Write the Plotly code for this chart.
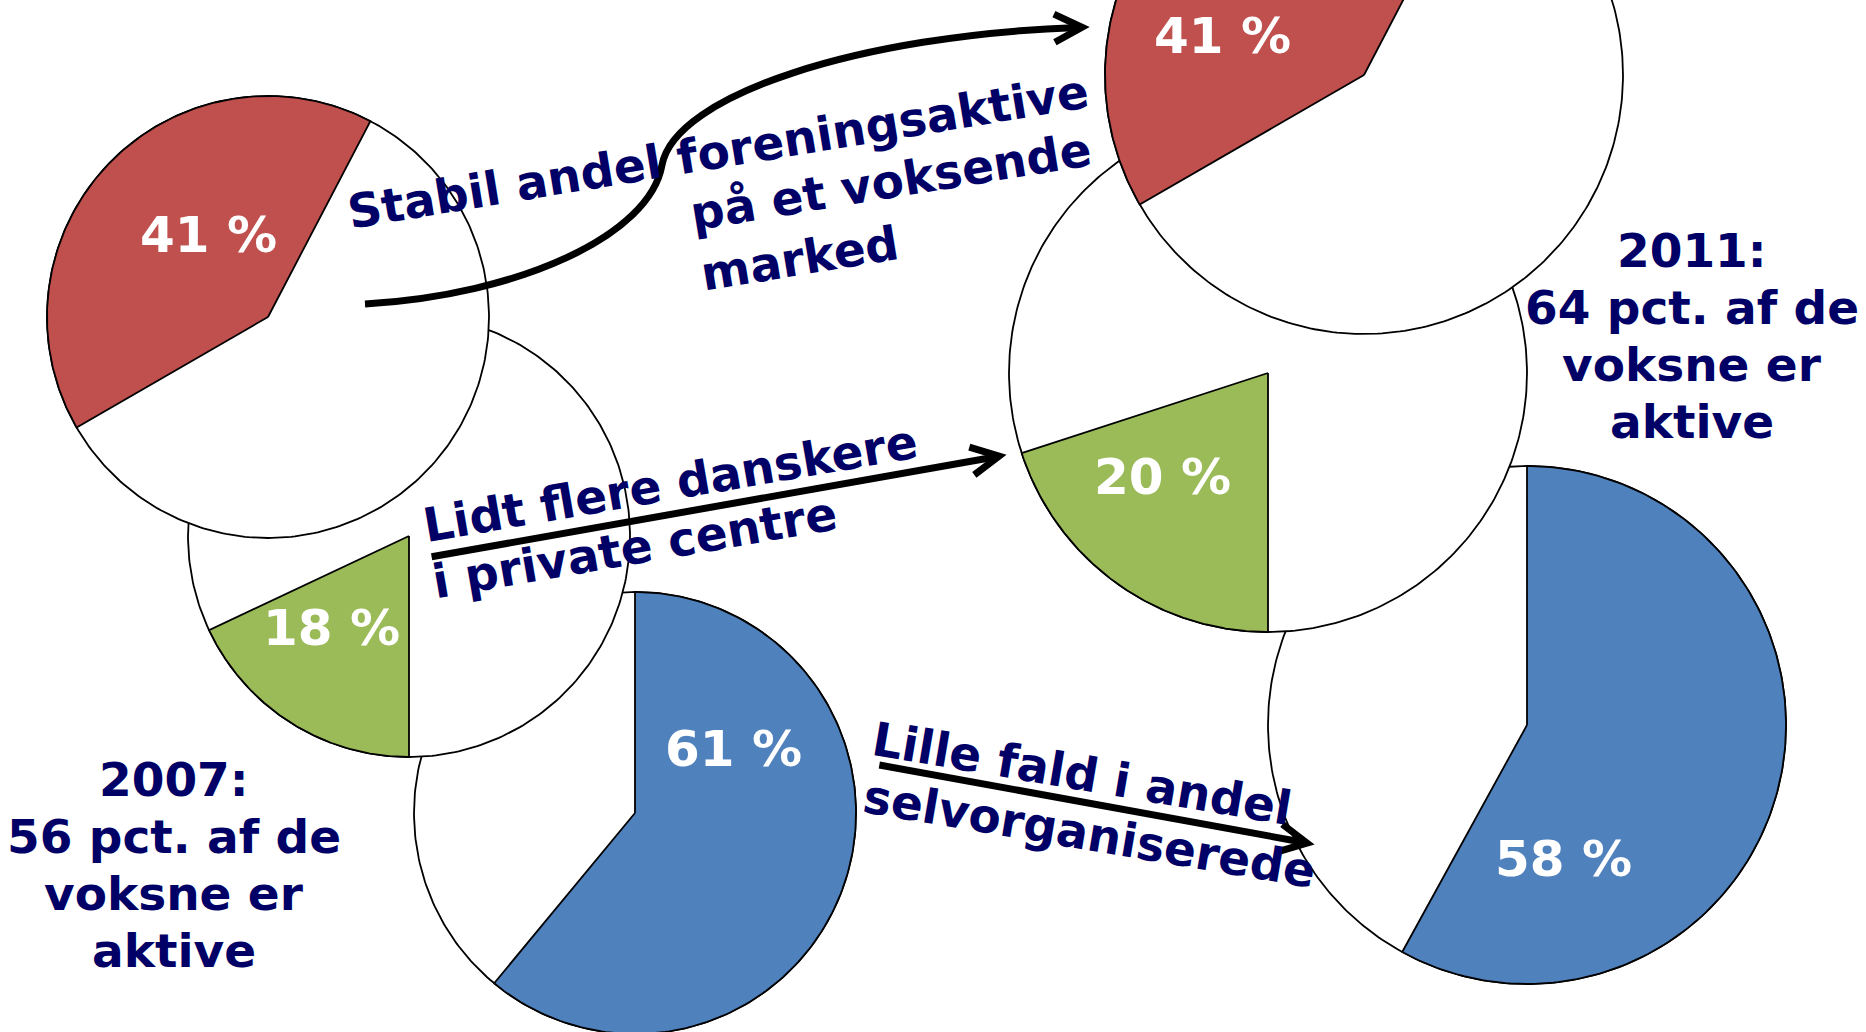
import numpy as np
import plotly.graph_objects as go

# data
years = ["2007", "2011"]
groups = ["Foreningsaktive", "Private centre", "Selvorganiserede"]
share_2007 = [41, 18, 61]
share_2011 = [41, 20, 58]
active_pct = [56, 64]

note_forening = ["Stabil andel foreningsaktive", "på et voksende", "marked"]
note_private = ["Lidt flere danskere", "i private centre"]
note_selv = ["Lille fald i andel", "selvorganiserede"]

# styling / layout
W, H = 1866, 1032
NAVY = "#000066"
FONT = "DejaVu Sans"
COLORS = ["#C0504D", "#9BBB59", "#4F81BD"]
START = [240, 180, 0]  # where the coloured slice starts, deg clockwise from 12 o'clock
PIE_POS = {
    "2007": [(268, 317, 221), (409, 536, 221), (635, 813, 221)],
    "2011": [(1364, 75, 259), (1268, 373, 259), (1527, 725, 259)],
}
LABEL_OFF = {
    "2007": [(-60, -82), (-78, 92), (98, -64)],
    "2011": [(-142, -39), (-106, 104), (36, 134)],
}
YEAR_TEXT_POS = {"2007": (174, 779), "2011": (1692, 250)}
LINE_STEP = 57.3

NOTE_POS = [
    (note_forening, [(718, 151), (890, 181), (799, 258)], -9.34),
    (note_private, [(670, 483), (634, 547)], -9.8),
    (note_selv, [(1082, 773), (1089, 833)], 9.6),
]


def arc(cx, cy, r, a0, a1, n=200):
    a = np.radians(np.linspace(a0, a1, n))
    return cx + r * np.sin(a), cy - r * np.cos(a)


def arrow_head(tip, vec, length=31, half=27):
    ang = np.arctan2(vec[1], vec[0])
    pts = []
    for s in (1, -1):
        b = ang + np.pi + s * np.radians(half)
        pts.append((tip[0] + length * np.cos(b), tip[1] + length * np.sin(b)))
    return f"M {pts[0][0]:.1f},{pts[0][1]:.1f} L {tip[0]},{tip[1]} L {pts[1][0]:.1f},{pts[1][1]:.1f}"


fig = go.Figure()
shares = {"2007": share_2007, "2011": share_2011}

annotations = []
for year in years:
    for i in [2, 1, 0]:
        cx, cy, r = PIE_POS[year][i]
        xs, ys = arc(cx, cy, r, 0, 360, 361)
        fig.add_trace(go.Scatter(
            x=xs, y=ys, mode="lines", fill="toself", fillcolor="white",
            line=dict(color="black", width=1.8), hoverinfo="skip",
        ))
        val = shares[year][i]
        ax, ay = arc(cx, cy, r, START[i], START[i] + val * 3.6)
        fig.add_trace(go.Scatter(
            x=np.concatenate([[cx], ax, [cx]]), y=np.concatenate([[cy], ay, [cy]]),
            mode="lines", fill="toself", fillcolor=COLORS[i],
            line=dict(color="black", width=1.8), name=f"{groups[i]} {year}",
            hoverinfo="name",
        ))
        dx, dy = LABEL_OFF[year][i]
        annotations.append(dict(
            x=cx + dx, y=cy + dy, text=f"{val} %", showarrow=False,
            font=dict(family=FONT, size=50, color="white", weight="bold"),
        ))

for k, year in enumerate(years):
    lines = [f"{year}:", f"{active_pct[k]} pct. af de", "voksne er", "aktive"]
    x0, y0 = YEAR_TEXT_POS[year]
    for j, t in enumerate(lines):
        annotations.append(dict(
            x=x0, y=y0 + j * LINE_STEP, text=t, showarrow=False,
            font=dict(family=FONT, size=47, color=NAVY, weight="bold"),
        ))

for lines, pos, ang in NOTE_POS:
    for t, (x, y) in zip(lines, pos):
        annotations.append(dict(
            x=x, y=y, text=t, showarrow=False, textangle=ang,
            font=dict(family=FONT, size=47, color=NAVY, weight="bold"),
        ))

for a in annotations:
    a.update(xref="x", yref="y", xanchor="center", yanchor="middle")

arrow_line = dict(color="black", width=7)
shapes = [
    dict(type="path", path="M 365,304 C 520,295 650,235 662,165 C 675,95 860,35 1078,27.5",
         line=arrow_line),
    dict(type="path", path=arrow_head((1082, 27.3), (1, -0.035)), line=arrow_line),
    dict(type="line", x0=431.6, y0=556.7, x1=995, y1=457, line=arrow_line),
    dict(type="path", path=arrow_head((999, 456.2), (574, -101.6)), line=arrow_line),
    dict(type="line", x0=879.3, y0=765, x1=1303, y1=842.2, line=arrow_line),
    dict(type="path", path=arrow_head((1307, 843), (433.4, 79)), line=arrow_line),
]
for s in shapes:
    s.update(xref="x", yref="y", layer="above")

fig.update_layout(
    width=W, height=H, autosize=False,
    margin=dict(l=0, r=0, t=0, b=0, pad=0),
    paper_bgcolor="white", plot_bgcolor="white",
    showlegend=False,
    xaxis=dict(range=[0, W], visible=False, fixedrange=True),
    yaxis=dict(range=[H, 0], visible=False, fixedrange=True),
    annotations=annotations,
    shapes=shapes,
)

fig.write_html(
    "out.html",
    config={"displayModeBar": False},
    post_script="document.body.style.margin='0';document.body.style.overflow='hidden';",
)
